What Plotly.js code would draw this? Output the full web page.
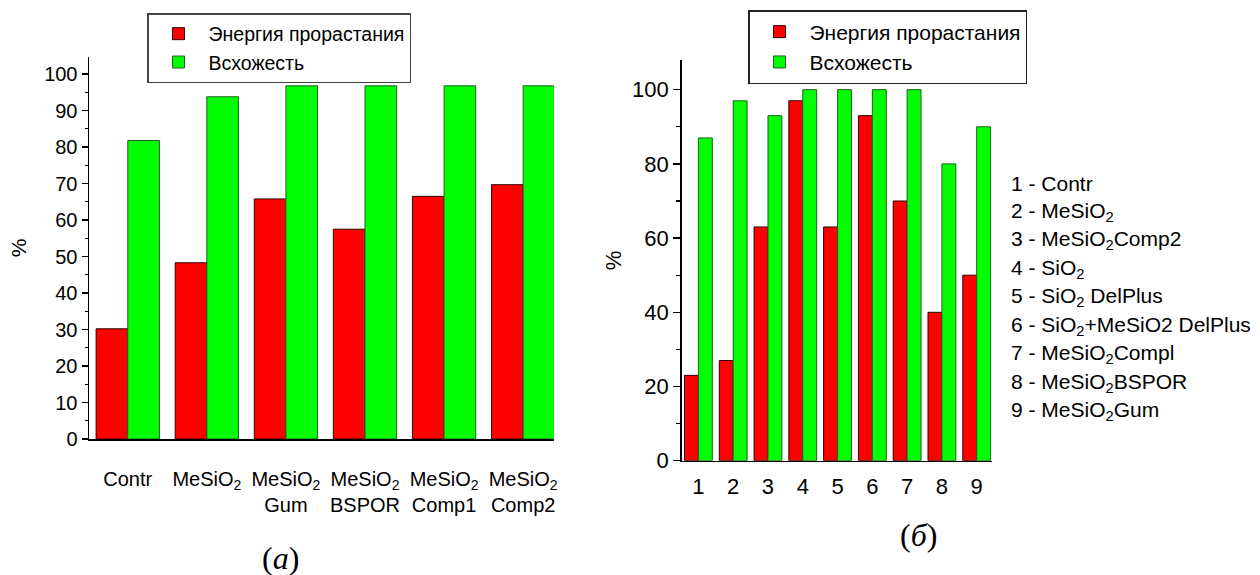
<!DOCTYPE html>
<html>
<head>
<meta charset="utf-8">
<script src="https://cdn.plot.ly/plotly-3.0.1.min.js"></script>
<style>html,body{margin:0;padding:0;background:#fff;}#chart{width:1260px;height:575px;}</style>
</head>
<body>
<div id="chart"></div>
<script>
// ---- data ----
var seriesNames = ["Энергия прорастания", "Всхожесть"];
var catsA = ["Contr", "MeSiO<sub>2</sub>", "MeSiO<sub>2</sub><br>Gum", "MeSiO<sub>2</sub><br>BSPOR", "MeSiO<sub>2</sub><br>Comp1", "MeSiO<sub>2</sub><br>Comp2"];
var energyA = [30.2, 48.3, 65.8, 57.5, 66.5, 69.7];
var germA = [81.8, 93.8, 96.8, 96.8, 96.8, 96.8];

var catsB = [1, 2, 3, 4, 5, 6, 7, 8, 9];
var energyB = [23, 27, 63, 97, 63, 93, 70, 40, 50];
var germB = [87, 97, 93, 100, 100, 100, 100, 80, 90];
var keyB = ["1 - Contr", "2 - MeSiO<sub>2</sub>", "3 - MeSiO<sub>2</sub>Comp2", "4 - SiO<sub>2</sub>",
  "5 - SiO<sub>2</sub> DelPlus", "6 - SiO<sub>2</sub>+MeSiO2 DelPlus", "7 - MeSiO<sub>2</sub>Compl",
  "8 - MeSiO<sub>2</sub>BSPOR", "9 - MeSiO<sub>2</sub>Gum"];
var panelLabels = ["(<i>a</i>)", "(<i>б</i>)"];

// ---- styling ----
var FONT = "'Liberation Sans', Arial, sans-serif";
var SERIF = "'Liberation Serif', 'Times New Roman', serif";
var RED = "#ff0000", GREEN = "#00ff00";
var redLine = {color: "#300000", width: 1};
var greenLine = {color: "#1f5f1f", width: 1};

var idxA = catsA.map(function(c, i){return i;});
var traces = [
  {type: "bar", x: idxA, y: energyA, name: seriesNames[0],
   marker: {color: RED, line: redLine}, xaxis: "x", yaxis: "y", legend: "legend"},
  {type: "bar", x: idxA, y: germA, name: seriesNames[1],
   marker: {color: GREEN, line: greenLine}, xaxis: "x", yaxis: "y", legend: "legend"},
  {type: "bar", x: catsB, y: energyB, name: seriesNames[0],
   marker: {color: RED, line: redLine}, xaxis: "x2", yaxis: "y2", legend: "legend2"},
  {type: "bar", x: catsB, y: germB, name: seriesNames[1],
   marker: {color: GREEN, line: greenLine}, xaxis: "x2", yaxis: "y2", legend: "legend2"}
];

var W = 1260, H = 575;
function px(x){return x / W;}
function py(y){return 1 - y / H;}

var annotations = [];
keyB.forEach(function(t, i){
  annotations.push({xref: "paper", yref: "paper", x: px(1009), y: py(183 + i * 28.5),
    xanchor: "left", yanchor: "middle", showarrow: false, text: t,
    font: {family: FONT, size: 21, color: "#000"}});
});
annotations.push({xref: "paper", yref: "paper", x: px(280), y: py(558), xanchor: "center", yanchor: "middle",
  showarrow: false, text: panelLabels[0], font: {family: SERIF, size: 32, color: "#000"}});
annotations.push({xref: "paper", yref: "paper", x: px(918), y: py(535), xanchor: "center", yanchor: "middle",
  showarrow: false, text: panelLabels[1], font: {family: SERIF, size: 32, color: "#000"}});

var layout = {
  width: W, height: H,
  margin: {l: 0, r: 0, t: 0, b: 0},
  paper_bgcolor: "#fff", plot_bgcolor: "#fff",
  font: {family: FONT, color: "#000"},
  barmode: "group", bargap: 0.2, bargroupgap: 0,
  showlegend: true,
  xaxis: {domain: [px(89), px(554)], anchor: "y", range: [-0.49, 5.39],
    tickmode: "array", tickvals: idxA, ticktext: catsA,
    showline: true, linecolor: "#000", linewidth: 1.5, ticks: "", showgrid: false, zeroline: false,
    tickfont: {family: FONT, size: 20}, ticklabelstandoff: 21},
  yaxis: {domain: [py(439), py(57)], anchor: "x", range: [0, 104.7],
    tickvals: [0,10,20,30,40,50,60,70,80,90,100],
    showline: true, linecolor: "#000", linewidth: 1.5, ticks: "outside", ticklen: 6, tickwidth: 1.5, tickcolor: "#000",
    minor: {dtick: 5, ticks: "outside", ticklen: 3, tickwidth: 1.2, tickcolor: "#000"},
    showgrid: false, zeroline: false, tickfont: {family: FONT, size: 20},
    title: {text: "%", font: {family: FONT, size: 21}, standoff: 12}},
  xaxis2: {domain: [px(681.7), px(992)], anchor: "y2", range: [0.52, 9.44],
    tickvals: catsB, ticktext: catsB.map(String),
    showline: true, linecolor: "#000", linewidth: 1.5, ticks: "", showgrid: false, zeroline: false,
    tickfont: {family: FONT, size: 22}, ticklabelstandoff: 5},
  yaxis2: {domain: [py(460.7), py(60)], anchor: "x2", range: [0, 108],
    tickvals: [0,20,40,60,80,100],
    showline: true, linecolor: "#000", linewidth: 1.5, ticks: "outside", ticklen: 7, tickwidth: 1.5, tickcolor: "#000",
    minor: {dtick: 10, ticks: "outside", ticklen: 4, tickwidth: 1.2, tickcolor: "#000"},
    showgrid: false, zeroline: false, tickfont: {family: FONT, size: 22},
    title: {text: "%", font: {family: FONT, size: 22}, standoff: 4}},
  legend: {x: px(147), y: py(13), xanchor: "left", yanchor: "top", bgcolor: "#fff",
    bordercolor: "#444", borderwidth: 1.5, font: {family: FONT, size: 19.5}, itemwidth: 50,
    tracegroupgap: 0},
  legend2: {x: px(748), y: py(10), xanchor: "left", yanchor: "top", bgcolor: "#fff",
    bordercolor: "#222", borderwidth: 1.5, font: {family: FONT, size: 21}, itemwidth: 50,
    tracegroupgap: 0},
  annotations: annotations
};

Plotly.newPlot("chart", traces, layout, {displayModeBar: false, staticPlot: true});
</script>
</body>
</html>
